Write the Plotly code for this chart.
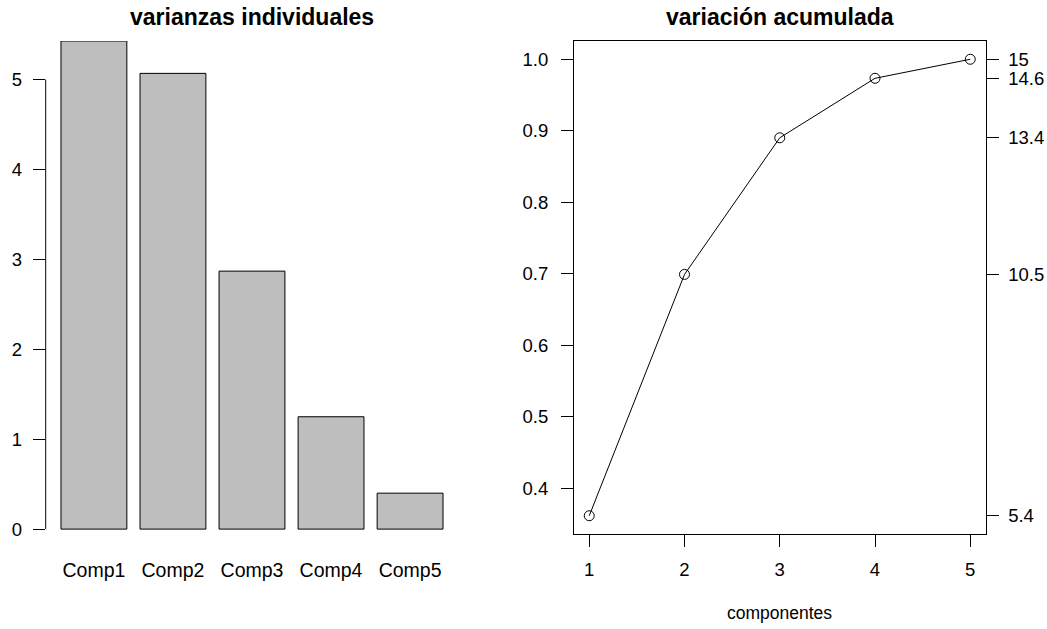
import plotly.graph_objects as go

# ---- data ----
componentes = ["Comp1", "Comp2", "Comp3", "Comp4", "Comp5"]
varianzas = [5.43, 5.07, 2.87, 1.25, 0.40]
comp_num = [1, 2, 3, 4, 5]
left_ticks = [0, 1, 2, 3, 4, 5]
right_left_ticks = [0.4, 0.5, 0.6, 0.7, 0.8, 0.9, 1.0]

# derived series
total = sum(varianzas)
acum = []
s = 0.0
for v in varianzas:
    s += v
    acum.append(s)
prop = [a / total for a in acum]
acum_lbl = []
for a in acum:
    r = round(a, 1)
    acum_lbl.append(str(int(r)) if r == int(r) else f"{r:.1f}")

W, H = 1047, 629
H_EFF = 623.0
FONT = "Liberation Sans, Arial, Helvetica, sans-serif"
FS = 18.5
FS_CAT = 19.5
FS_LAB = 17.5
TFS = 23

def px_x(p):
    return p / W

def px_y(p):
    return 1 - p / H_EFF

# panel geometry (pixels)
L_X0, L_X1 = 45.7, 458.3
R_X0, R_X1 = 574.0, 985.5
P_TOP, P_BOT = 41.0, 534.0

# left x range (R barplot: width 1, space 0.2, 4% expansion)
xl_lo, xl_hi = 0.2, 1.2 * len(varianzas)
ext = 0.04 * (xl_hi - xl_lo)
cat_lo = (xl_lo - ext - 0.7) / 1.2
cat_hi = (xl_hi + ext - 0.7) / 1.2

ymax = max(varianzas)
ylo, yhi = -0.01 * ymax, ymax

# right ranges
xr_ext = 0.04 * (max(comp_num) - min(comp_num))
pr_ext = 0.04 * (max(prop) - min(prop))

fig = go.Figure()

fig.add_trace(go.Bar(
    x=componentes, y=varianzas, xaxis="x", yaxis="y",
    marker=dict(color="#BEBEBE", line=dict(color="black", width=1)),
    showlegend=False, hoverinfo="skip",
))

fig.add_trace(go.Scatter(
    x=comp_num, y=prop, xaxis="x2", yaxis="y2", mode="lines+markers",
    line=dict(color="black", width=1),
    marker=dict(symbol="circle-open", size=10, color="black", line=dict(width=1, color="black")),
    showlegend=False, hoverinfo="skip", cliponaxis=False,
))

fig.add_trace(go.Scatter(
    x=comp_num, y=prop, xaxis="x2", yaxis="y3", mode="lines",
    line=dict(color="rgba(0,0,0,0)", width=0),
    showlegend=False, hoverinfo="skip",
))

tickfont = dict(family=FONT, size=FS, color="black")

fig.update_layout(
    width=W, height=H, autosize=False,
    margin=dict(l=0, r=0, t=0, b=0),
    paper_bgcolor="white", plot_bgcolor="white",
    bargap=1 - 1 / 1.2,
    xaxis=dict(
        domain=[px_x(L_X0), px_x(L_X1)], anchor="y",
        type="category", range=[cat_lo, cat_hi],
        showline=False, showgrid=False, zeroline=False,
        ticks="", tickfont=dict(family=FONT, size=FS_CAT, color="black"),
        ticklabelstandoff=22,
    ),
    yaxis=dict(
        domain=[px_y(P_BOT), px_y(P_TOP)], anchor="x",
        range=[ylo, yhi], tickvals=left_ticks,
        showline=False, showgrid=False, zeroline=False,
        ticks="outside", ticklen=12, tickwidth=1, tickcolor="black",
        tickfont=tickfont, ticklabelstandoff=7,
    ),
    xaxis2=dict(
        domain=[px_x(R_X0), px_x(R_X1)], anchor="y2",
        range=[min(comp_num) - xr_ext, max(comp_num) + xr_ext],
        tickvals=comp_num,
        showline=True, mirror=True, linecolor="black", linewidth=1,
        showgrid=False, zeroline=False,
        ticks="outside", ticklen=12, tickwidth=1, tickcolor="black",
        tickfont=tickfont, ticklabelstandoff=7,
    ),
    yaxis2=dict(
        domain=[px_y(P_BOT), px_y(P_TOP)], anchor="x2",
        range=[min(prop) - pr_ext, max(prop) + pr_ext],
        tickvals=right_left_ticks, ticktext=[f"{v:.1f}" for v in right_left_ticks],
        showline=True, mirror=True, linecolor="black", linewidth=1,
        showgrid=False, zeroline=False,
        ticks="outside", ticklen=12, tickwidth=1, tickcolor="black",
        tickfont=tickfont, ticklabelstandoff=9,
    ),
    yaxis3=dict(
        domain=[px_y(P_BOT), px_y(P_TOP)], anchor="x2", overlaying="y2", side="right",
        range=[min(prop) - pr_ext, max(prop) + pr_ext],
        tickvals=prop, ticktext=acum_lbl,
        showline=False, showgrid=False, zeroline=False,
        ticks="outside", ticklen=12, tickwidth=1, tickcolor="black",
        tickfont=tickfont, ticklabelstandoff=6,
    ),
    shapes=[dict(
        type="line", xref="x domain", yref="y",
        x0=0, x1=0, y0=left_ticks[0], y1=left_ticks[-1],
        line=dict(color="black", width=1),
    )],
    annotations=[
        dict(text="<b>varianzas individuales</b>", xref="paper", yref="paper",
             x=px_x((L_X0 + L_X1) / 2), y=px_y(17.5), xanchor="center", yanchor="middle",
             showarrow=False, font=dict(family=FONT, size=TFS, color="black")),
        dict(text="<b>variación acumulada</b>", xref="paper", yref="paper",
             x=px_x((R_X0 + R_X1) / 2), y=px_y(17.5), xanchor="center", yanchor="middle",
             showarrow=False, font=dict(family=FONT, size=TFS, color="black")),
        dict(text="componentes", xref="paper", yref="paper",
             x=px_x((R_X0 + R_X1) / 2), y=px_y(613), xanchor="center", yanchor="middle",
             showarrow=False, font=dict(family=FONT, size=FS_LAB, color="black")),
    ],
)

fig.write_html("out.html")
